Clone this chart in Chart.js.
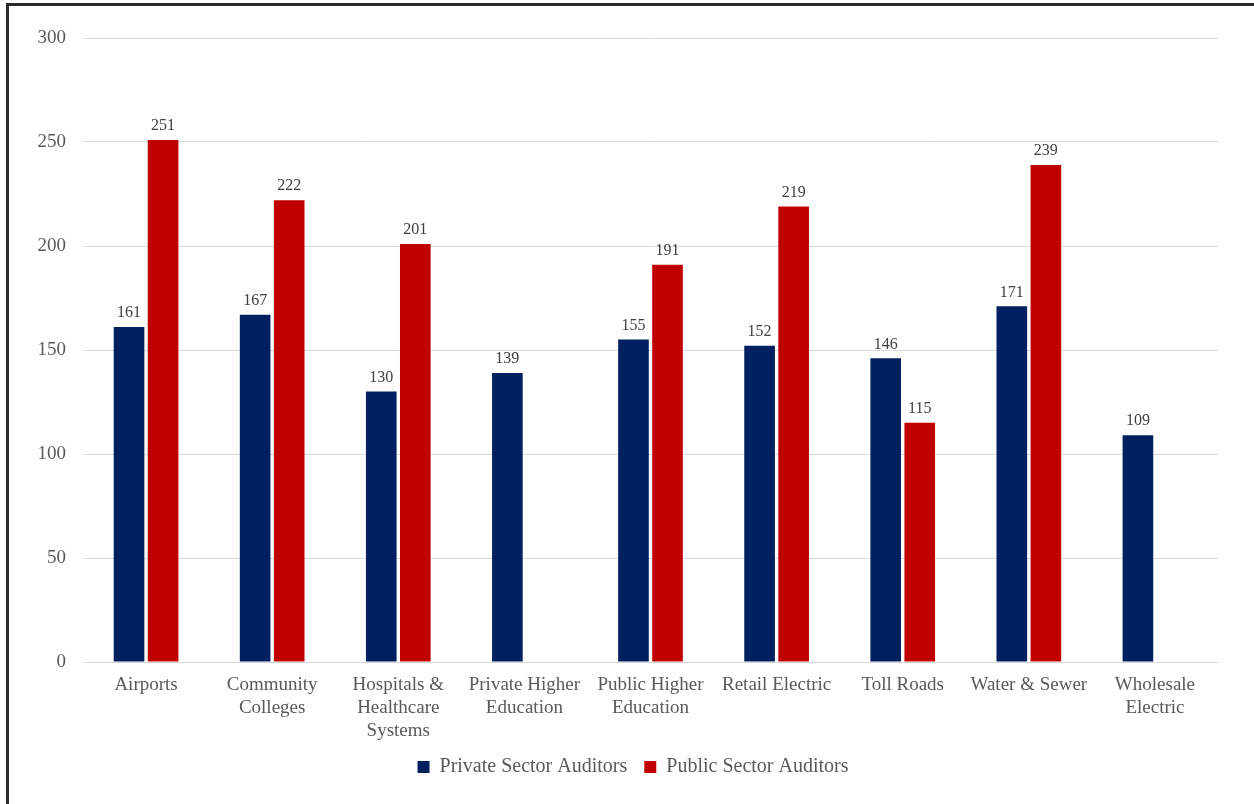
<!DOCTYPE html>
<html>
<head>
<meta charset="utf-8">
<script src="https://cdn.jsdelivr.net/npm/chart.js@4.4.1/dist/chart.umd.min.js"></script>
<style>
  html, body { margin: 0; padding: 0; background: #fff; overflow: hidden; }
  #wrap { position: relative; width: 1254px; height: 804px; }
  #frame { position: absolute; left: 6px; top: 3px; width: 1260px; height: 820px; border: 3px solid #2b2b2b; box-sizing: border-box; }
  canvas { position: absolute; left: 0; top: 0; }
</style>
</head>
<body>
<div id="wrap">
  <div id="frame"></div>
  <canvas id="barChart" width="1254" height="804"></canvas>
</div>
<script>
"use strict";

// categories, split into lines the way the original wraps them
var categories = [
    ["Airports"],
    ["Community", "Colleges"],
    ["Hospitals &", "Healthcare", "Systems"],
    ["Private Higher", "Education"],
    ["Public Higher", "Education"],
    ["Retail Electric"],
    ["Toll Roads"],
    ["Water & Sewer"],
    ["Wholesale", "Electric"]
];

var privateAuditors = [161, 167, 130, 139, 155, 152, 146, 171, 109];
var publicAuditors  = [251, 222, 201, null, 191, 219, 115, 239, null];

var yTicks = [0, 50, 100, 150, 200, 250, 300];

var serif = "'Liberation Serif', 'Times New Roman', serif";

// draws the value above each bar (no datalabels plugin available)
var valueLabels = {
    id: 'valueLabels',
    afterDatasetsDraw: function(chart) {
        var ctx = chart.ctx;
        ctx.save();
        ctx.font = "16px " + serif;
        ctx.fillStyle = "#404040";
        ctx.textAlign = "center";
        ctx.textBaseline = "bottom";
        chart.data.datasets.forEach(function(ds, i) {
            var meta = chart.getDatasetMeta(i);
            meta.data.forEach(function(bar, j) {
                if (ds.data[j] === null) return;
                ctx.fillText(ds.data[j], bar.x, bar.y - 6);
            });
        });
        ctx.restore();
    }
};

// let tick labels spill outside their scale box instead of being clipped
function noLabelClip(scale) {
    scale._computeLabelArea = function() { return undefined; };
}

var myBarChart = new Chart(document.getElementById("barChart"), {
    type: 'bar',
    data: {
        labels: categories,
        datasets: [
            {
                label: "Private Sector Auditors",
                data: privateAuditors,
                backgroundColor: "#002060",
                categoryPercentage: 0.54,
                barPercentage: 0.9
            },
            {
                label: "Public Sector Auditors",
                data: publicAuditors,
                backgroundColor: "#C00000",
                categoryPercentage: 0.54,
                barPercentage: 0.9
            }
        ]
    },
    options: {
        responsive: false,
        animation: false,
        layout: { padding: { left: 48, right: 36, top: 38, bottom: 17 } },
        plugins: {
            legend: {
                position: 'bottom',
                labels: {
                    font: { family: serif, size: 20 },
                    color: "#595959",
                    boxWidth: 12,
                    boxHeight: 12,
                    padding: 17
                }
            },
            tooltip: { enabled: false }
        },
        scales: {
            x: {
                grid: { display: false, drawTicks: false },
                border: { color: "#d9d9d9", width: 1 },
                ticks: {
                    font: { family: serif, size: 19, lineHeight: 1.2 },
                    color: "#595959",
                    padding: 12,
                    maxRotation: 0,
                    autoSkip: false
                },
                afterFit: function(scale) {
                    scale.height = 78;
                    noLabelClip(scale);
                }
            },
            y: {
                min: 0,
                max: 300,
                afterBuildTicks: function(scale) {
                    scale.ticks = yTicks.map(function(v) { return { value: v }; });
                },
                grid: { color: "#d9d9d9", drawTicks: false },
                border: { display: false },
                ticks: {
                    font: { family: serif, size: 19 },
                    color: "#595959",
                    padding: 17
                },
                afterFit: function(scale) {
                    scale.width = 35;
                    noLabelClip(scale);
                }
            }
        }
    },
    plugins: [valueLabels]
});
</script>
</body>
</html>
